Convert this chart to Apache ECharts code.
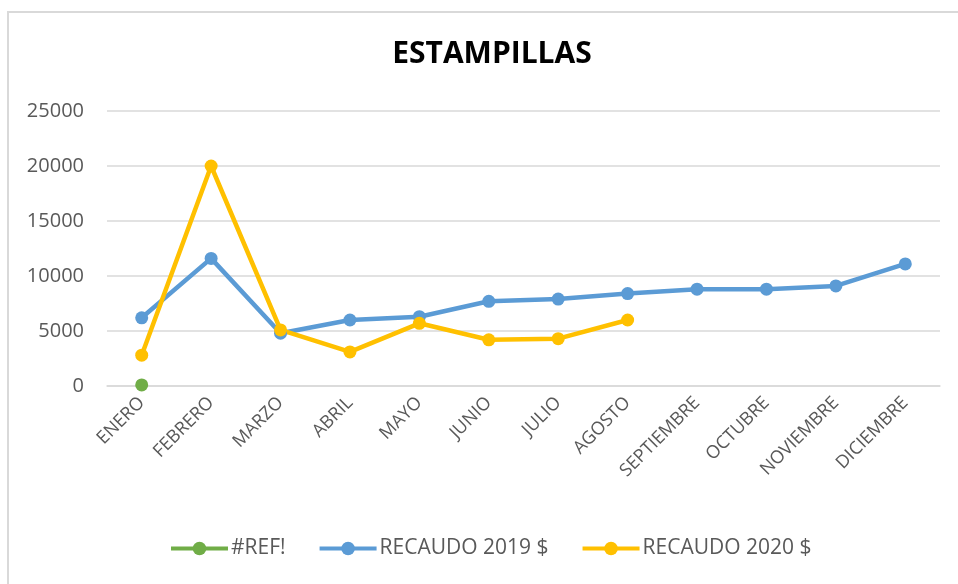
<!DOCTYPE html>
<html>
<head>
<meta charset="utf-8">
<script src="https://cdn.jsdelivr.net/npm/echarts@6/dist/echarts.min.js"></script>
<style>
html,body{margin:0;padding:0;background:#fff;}
#frame{position:absolute;left:0;top:0;width:958px;height:584px;}
#border{position:absolute;left:7px;top:11px;width:951px;height:573px;border-left:2px solid #d9d9d9;border-top:2px solid #d9d9d9;box-sizing:border-box;pointer-events:none;}
#chart{position:absolute;left:0;top:0;width:958px;height:584px;}
</style>
</head>
<body>
<div id="frame">
<div id="chart"></div>
<div id="border"></div>
</div>
<script>
const categories = ['ENERO','FEBRERO','MARZO','ABRIL','MAYO','JUNIO','JULIO','AGOSTO','SEPTIEMBRE','OCTUBRE','NOVIEMBRE','DICIEMBRE'];
const refValues = [100, null, null, null, null, null, null, null, null, null, null, null];
const recaudo2019 = [6200, 11600, 4800, 6000, 6300, 7700, 7900, 8400, 8800, 8800, 9100, 11100];
const recaudo2020 = [2800, 20000, 5100, 3100, 5700, 4200, 4300, 6000, null, null, null, null];
const yTicks = [0, 5000, 10000, 15000, 20000, 25000];

const chart = echarts.init(document.getElementById('chart'), null, {renderer:'canvas'});
const font = 'Open Sans';
function lineSeries(name, data, color){
  return {
    name: name, type: 'line', data: data,
    symbol: 'circle', symbolSize: 13,
    lineStyle: {color: color, width: 4.5},
    itemStyle: {color: color},
    connectNulls: false,
    animation: false
  };
}
chart.setOption({
  animation: false,
  title: {
    text: 'ESTAMPILLAS', left: 487, textAlign: 'center', top: 34,
    textStyle: {fontFamily: font, fontWeight: 'bold', fontSize: 30, color: '#000'}
  },
  grid: {left: 107, right: 18, top: 111, bottom: 198, containLabel: false},
  legend: {
    top: 533, left: 164, itemGap: 32, itemWidth: 57, itemHeight: 17,
    lineStyle: {width: 4},
    textStyle: {fontFamily: font, fontSize: 21, color: '#595959', padding: [0, 0, 0, -2]},
    data: ['#REF!', 'RECAUDO 2019 $', 'RECAUDO 2020 $']
  },
  xAxis: {
    type: 'category', data: categories, boundaryGap: true,
    axisLine: {show: true, lineStyle: {color: '#d9d9d9', width: 1.5}},
    axisTick: {show: false},
    axisLabel: {rotate: 45, fontFamily: font, fontSize: 18, color: '#595959', margin: 14, interval: 0}
  },
  yAxis: {
    type: 'value', min: yTicks[0], max: yTicks[yTicks.length-1], interval: 5000,
    axisLine: {show: false}, axisTick: {show: false},
    axisLabel: {fontFamily: font, fontSize: 20, color: '#595959', margin: 23,
      formatter: function(v){ return String(v); }},
    splitLine: {lineStyle: {color: '#d9d9d9', width: 1.5}}
  },
  series: [
    lineSeries('#REF!', refValues, '#70AD47'),
    lineSeries('RECAUDO 2019 $', recaudo2019, '#5B9BD5'),
    lineSeries('RECAUDO 2020 $', recaudo2020, '#FFC000')
  ]
});
</script>
</body>
</html>
